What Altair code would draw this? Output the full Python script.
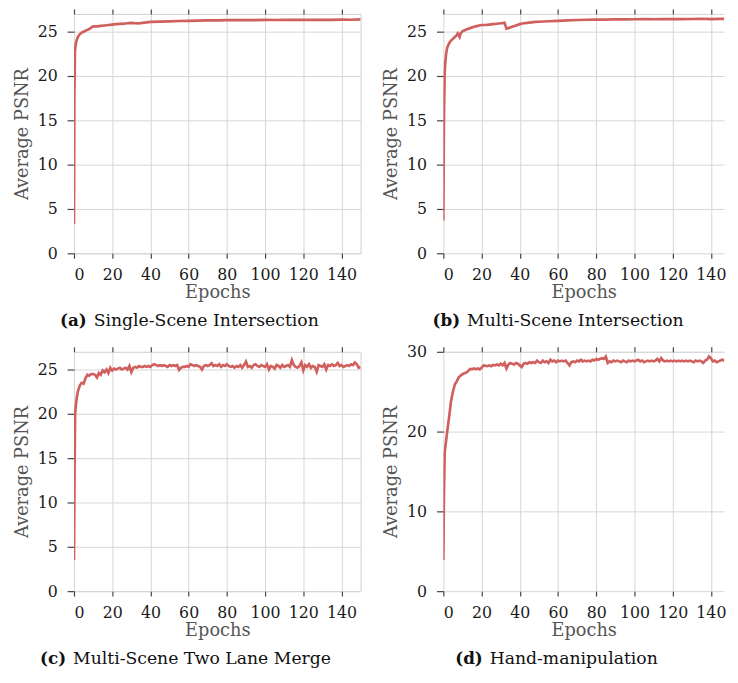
import altair as alt
import pandas as pd

# ---------------- data ----------------
a_epoch = [0, 0.2, 0.5, 1, 1.5, 2, 3, 4, 5, 6, 7, 8, 9, 10, 12, 14, 16, 18, 20, 22, 24, 26, 28,
           30, 32, 34, 36, 38, 40, 45, 50, 55, 60, 65, 70, 75, 80, 85, 90, 95, 100, 105, 110,
           115, 120, 125, 130, 135, 140, 145, 150]
a_psnr = [3.3, 18.0, 22.8, 23.7, 24.1, 24.4, 24.7, 24.9, 25.0, 25.1, 25.2, 25.3, 25.45, 25.6,
          25.6, 25.65, 25.7, 25.75, 25.8, 25.85, 25.88, 25.9, 25.95, 26.0, 25.95, 25.93, 26.0,
          26.05, 26.1, 26.13, 26.17, 26.2, 26.22, 26.25, 26.27, 26.28, 26.3, 26.3, 26.32, 26.3,
          26.33, 26.32, 26.34, 26.33, 26.35, 26.34, 26.35, 26.33, 26.36, 26.35, 26.38]

b_epoch = [0, 0.3, 0.7, 1, 1.5, 2, 3, 4, 5, 6, 7, 7.5, 8, 8.5, 9, 10, 12, 14, 16, 18, 20, 22,
           24, 26, 28, 30, 31, 32, 32.5, 33, 34, 36, 38, 40, 42, 44, 46, 48, 50, 55, 60, 65,
           70, 75, 80, 85, 90, 95, 100, 105, 110, 115, 120, 125, 130, 135, 140, 145, 150]
b_psnr = [3.7, 15.0, 20.5, 21.5, 22.6, 23.2, 23.7, 24.0, 24.2, 24.4, 24.6, 24.8, 24.6, 24.4,
          24.8, 25.05, 25.25, 25.4, 25.55, 25.65, 25.75, 25.75, 25.8, 25.85, 25.9, 25.95,
          25.97, 26.0, 25.7, 25.35, 25.4, 25.55, 25.7, 25.85, 25.95, 26.0, 26.05, 26.1, 26.12,
          26.18, 26.22, 26.28, 26.32, 26.35, 26.37, 26.36, 26.4, 26.38, 26.4, 26.41, 26.4,
          26.42, 26.42, 26.41, 26.43, 26.46, 26.42, 26.44, 26.43]

c_epoch = [0, 0.3, 0.6, 1, 1.5] + list(range(2, 151))
c_psnr = [3.5, 14.0, 20.0, 21.0, 21.9,
          22.5, 23.2, 23.5, 23.4, 24.0, 24.4, 24.3, 24.5, 24.5, 24.4,
          24.1, 24.6, 24.4, 24.9, 24.7, 25.0, 24.6, 25.2, 24.9, 25.1,
          25.0, 25.1, 25.2, 25.0, 25.1, 25.2, 25.0, 25.4, 24.7, 25.2,
          25.3, 25.2, 25.4, 25.3, 25.3, 25.4, 25.3, 25.4, 25.3, 25.5,
          25.6, 25.5, 25.4, 25.5, 25.4, 25.5, 25.4, 25.3, 25.5, 25.4,
          25.5, 25.4, 25.5, 24.95, 25.2, 25.3, 25.3, 25.4, 25.3, 25.6,
          25.5, 25.4, 25.5, 25.4, 25.3, 25.0, 25.4, 25.5, 25.4, 25.5,
          25.7, 25.4, 25.5, 25.4, 25.6, 25.3, 25.5, 25.4, 25.6, 25.4,
          25.3, 25.4, 25.2, 25.4, 25.3, 25.5, 25.2, 25.5, 25.9, 25.3,
          25.4, 25.2, 25.5, 25.6, 25.4, 25.3, 25.5, 25.4, 25.3, 25.6,
          25.0, 25.4, 25.3, 25.1, 25.5, 25.4, 25.2, 25.5, 25.3, 25.4,
          25.5, 25.3, 26.05, 25.5, 25.3, 25.2, 25.4, 25.8, 24.9, 25.5,
          25.3, 25.6, 25.2, 25.4, 25.3, 24.75, 25.5, 25.4, 25.3, 25.6,
          25.0, 25.5, 25.4, 25.6, 25.4, 25.5, 25.75, 25.4, 25.5, 25.3,
          25.4, 25.5, 25.4, 25.6, 25.5, 25.8, 25.6, 25.2, 25.3]

d_epoch = [0, 0.3, 0.7] + list(range(1, 151))
d_psnr = [3.9, 12.0, 17.3,
          18.0, 20.0, 21.8, 23.8, 25.0, 25.9, 26.3, 26.8, 27.0, 27.2,
          27.3, 27.4, 27.6, 27.85, 27.8, 27.9, 27.8, 27.9, 27.8, 28.0,
          28.3, 28.25, 28.2, 28.3, 28.2, 28.35, 28.3, 28.4, 28.3, 28.5,
          28.3, 28.6, 27.9, 28.4, 28.6, 28.5, 28.4, 28.6, 28.5, 28.3,
          28.1, 28.5, 28.6, 28.5, 28.7, 28.6, 28.7, 28.6, 28.9, 28.7,
          28.6, 28.9, 28.7, 28.8, 28.6, 29.0, 28.8, 28.9, 28.7, 28.9,
          28.8, 28.9, 28.8, 28.9, 28.6, 28.3, 28.7, 28.8, 28.7, 28.9,
          28.8, 29.0, 28.8, 28.9, 28.8, 28.9, 28.8, 29.0, 28.9, 29.1,
          29.0, 29.1, 29.2, 29.1, 29.4, 28.6, 28.8, 28.7, 28.9, 28.8,
          28.9, 28.8, 28.7, 28.9, 28.8, 28.7, 28.9, 28.8, 28.9, 28.8,
          28.9, 29.0, 28.8, 28.9, 28.7, 28.8, 28.9, 28.8, 28.9, 28.8,
          28.9, 29.1, 28.8, 29.2, 28.9, 28.8, 28.9, 28.8, 28.9, 28.8,
          28.9, 28.8, 28.9, 28.8, 28.9, 28.8, 28.9, 28.8, 28.9, 28.8,
          28.7, 28.9, 28.8, 28.9, 28.8, 28.6, 28.9, 29.0, 29.4, 29.2,
          28.8, 28.9, 28.7, 28.8, 28.9, 29.0, 28.9, 29.0, 28.9, 29.0]

x_ticks = [0, 20, 40, 60, 80, 100, 120, 140]
y_ticks_27 = [0, 5, 10, 15, 20, 25]
y_ticks_30 = [0, 10, 20, 30]

tags = ["(a)", "(b)", "(c)", "(d)"]
captions = ["Single-Scene Intersection", "Multi-Scene Intersection",
            "Multi-Scene Two Lane Merge", "Hand-manipulation"]

# ---------------- styling ----------------
RED = "#d0605e"
FONT = "DejaVu Serif"
W, H = 291, 243
PX_PER_EPOCH = W / 150.0
W_RIGHT = 285          # right column is cut by the page edge, as in the reference
CAP_Y = H + 74


def panel(xs, ys, ymax, yticks, tag, caption, cap_left, width, xmax, frame):
    df = pd.DataFrame({"epoch": xs, "psnr": ys})
    xscale = alt.Scale(domain=[0, xmax], nice=False, zero=False)
    yscale = alt.Scale(domain=[0, ymax], nice=False)
    line = alt.Chart(df).mark_line(color=RED, strokeWidth=2.7, clip=True).encode(
        x=alt.X("epoch:Q", scale=xscale,
                axis=alt.Axis(values=x_ticks, title="Epochs", format="d")),
        y=alt.Y("psnr:Q", scale=yscale,
                axis=alt.Axis(values=yticks, title="Average PSNR", format="d")),
    )
    if frame:
        ytop = alt.Y("psnr:Q", scale=yscale, axis=None)
    else:
        ytop = alt.Y("psnr:Q", scale=yscale,
                     axis=alt.Axis(values=[ymax], labels=False, ticks=False,
                                   domain=False, grid=True, title=None))
    top = alt.Chart(df).mark_line(strokeOpacity=0).encode(
        x=alt.X("epoch:Q", scale=xscale,
                axis=alt.Axis(orient="top", values=x_ticks, labels=False, grid=False,
                              domain=False, ticks=True, tickSize=5, title=None)),
        y=ytop,
    )
    capdf = pd.DataFrame({"tag": [tag], "cap": [caption]})
    tag_t = alt.Chart(capdf).mark_text(font=FONT, fontSize=17, fontWeight="bold",
                                       align="right", baseline="alphabetic",
                                       color="#111").encode(
        x=alt.value(cap_left - 7), y=alt.value(CAP_Y), text="tag:N")
    cap_t = alt.Chart(capdf).mark_text(font=FONT, fontSize=17.5, align="left",
                                       baseline="alphabetic", color="#111").encode(
        x=alt.value(cap_left), y=alt.value(CAP_Y), text="cap:N")
    ch = alt.layer(line, top, tag_t, cap_t).resolve_axis(
        x="independent", y="independent").properties(width=width, height=H)
    if not frame:
        ch = ch.properties(view=alt.ViewBackground(strokeOpacity=0))
    return ch


xmax_right = W_RIGHT / PX_PER_EPOCH
pa = panel(a_epoch, a_psnr, 27, y_ticks_27, tags[0], captions[0], 20, W, 150, True)
pb = panel(b_epoch, b_psnr, 27, y_ticks_27, tags[1], captions[1], 24, W_RIGHT, xmax_right, False)
pc = panel(c_epoch, c_psnr, 27, y_ticks_27, tags[2], captions[2], -1, W, 150, True)
pd_ = panel(d_epoch, d_psnr, 30, y_ticks_30, tags[3], captions[3], 47, W_RIGHT, xmax_right, False)

chart = alt.concat(pa, pb, pc, pd_, columns=2,
                   spacing={"row": 100, "column": 84}, bounds="flush").properties(
    padding={"left": 5, "top": -6, "right": 0, "bottom": -4}
).configure_view(
    stroke="#cfcfcf", strokeWidth=1
).configure_axis(
    labelFont=FONT, titleFont=FONT, labelFontSize=16, titleFontSize=18,
    labelColor="#1a1a1a", titleColor="#555555", titleFontWeight="normal",
    gridColor="#d6d6d6", gridWidth=1, domain=False,
    tickColor="#444444", tickWidth=1.2,
).configure_axisX(
    tickSize=5, labelPadding=9, titlePadding=1
).configure_axisY(
    tickSize=7, labelPadding=10, titlePadding=6
)

chart.save("out.html", embed_options={"renderer": "svg", "actions": False})
